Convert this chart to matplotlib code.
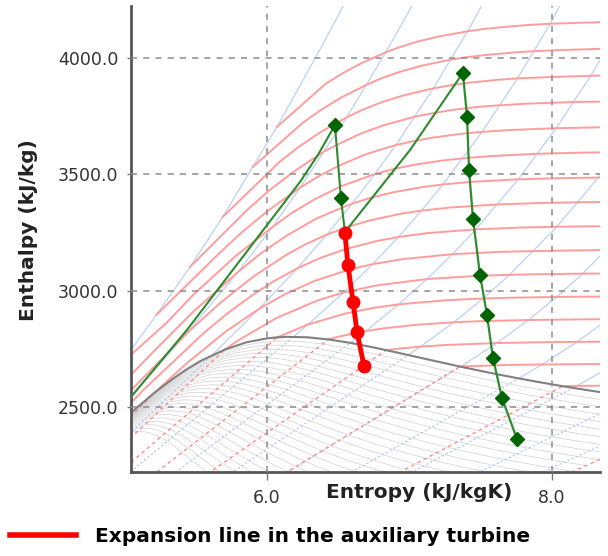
import matplotlib.pyplot as plt
from matplotlib.lines import Line2D
from matplotlib.ticker import FormatStrFormatter
import numpy as np

plt.rcParams['font.family'] = ['DejaVu Sans']

# cycle: s in kJ/kgK, h in kJ/kg
heat_s = [5.046, 5.439, 6.232, 6.358, 6.477, 6.519, 6.547]
heat_h = [2545, 2833, 3468, 3584, 3712, 3399, 3253]
reheat_s = [6.547, 7.004, 7.375]
reheat_h = [3253, 3605, 3936]
main_s = [7.375, 7.404, 7.418, 7.446, 7.495, 7.544, 7.586, 7.649, 7.754]
main_h = [3936, 3747, 3519, 3309, 3069, 2897, 2712, 2541, 2365]
hp_mark_s = [6.477, 6.519]
hp_mark_h = [3712, 3399]
aux_s = [6.547, 6.568, 6.604, 6.632, 6.681]
aux_h = [3249, 3112, 2953, 2824, 2678]

# saturation table (T in C)
sat_T = [0.01, 10, 20, 30, 40, 50, 60, 70, 80, 90, 100, 120, 140, 150, 160, 180, 200,
         220, 240, 250, 260, 280, 300, 320, 330, 340, 350, 355, 360, 365, 370, 373.95]
sat_sf = [0.0, 0.1511, 0.2965, 0.4368, 0.5724, 0.7038, 0.8313, 0.9551, 1.0756, 1.1929,
          1.3072, 1.5279, 1.7392, 1.8418, 1.9426, 2.1392, 2.3305, 2.5177, 2.7022, 2.7935,
          2.8850, 3.0681, 3.2548, 3.4495, 3.5516, 3.6601, 3.7784, 3.8442, 3.9167, 4.0003,
          4.1112, 4.4070]
sat_hf = [0.0, 42.0, 83.9, 125.7, 167.5, 209.3, 251.2, 293.1, 335.0, 377.0, 419.2, 503.8,
          589.2, 632.2, 675.5, 763.1, 852.3, 943.6, 1037.6, 1085.8, 1135.0, 1236.7, 1344.8,
          1461.3, 1525.9, 1594.5, 1670.9, 1713.9, 1764.2, 1821.0, 1890.7, 2084.3]
sat_sg = [9.1556, 8.8999, 8.6660, 8.4520, 8.2555, 8.0748, 7.9081, 7.7540, 7.6111, 7.4781,
          7.3541, 7.1291, 6.9293, 6.8371, 6.7491, 6.5850, 6.4302, 6.2840, 6.1437, 6.0721,
          6.0019, 5.8571, 5.7059, 5.5373, 5.4422, 5.3356, 5.2110, 5.1388, 5.0536, 4.9497,
          4.8012, 4.4070]
sat_hg = [2500.9, 2519.2, 2537.4, 2555.6, 2573.5, 2591.3, 2608.8, 2626.1, 2643.0, 2659.6,
          2675.6, 2706.0, 2733.5, 2745.9, 2757.4, 2777.2, 2792.0, 2801.1, 2803.0, 2800.9,
          2796.6, 2779.9, 2748.7, 2700.6, 2666.0, 2621.3, 2563.6, 2526.0, 2481.5, 2418.4,
          2334.5, 2084.3]
wet_T = [0.01, 50, 100, 150, 200, 250, 300, 350]
qualities = np.round(np.arange(0.75, 0.995, 0.01), 2)

# isobars (MPa) in the wet region: sf, hf, sg, hg
wet_p = [0.001, 0.003, 0.01, 0.03, 0.1, 0.3, 1, 3, 10]
wet_p_sf = [0.1059, 0.3543, 0.6492, 0.9441, 1.3028, 1.6717, 2.1381, 2.6454, 3.3603]
wet_p_hf = [29.3, 101.0, 191.8, 289.2, 417.5, 561.4, 762.5, 1008.3, 1407.9]
wet_p_sg = [8.9749, 8.5765, 8.1488, 7.7675, 7.3589, 6.9917, 6.5850, 6.1856, 5.6159]
wet_p_hg = [2513.7, 2544.8, 2583.9, 2624.6, 2675.0, 2724.9, 2777.1, 2803.2, 2725.5]

# superheated isobars
p001 = [(8.1488, 2583.9), (8.1749, 2592.6), (8.4479, 2687.5)]
p003 = [(7.7675, 2624.6), (7.930, 2684.3), (8.176, 2781.5), (8.394, 2879.0)]
p01 = [(7.3589, 2675.0), (7.6134, 2776.4), (7.8343, 2875.3), (8.0333, 2974.3),
       (8.2158, 3074.3), (8.5435, 3278.2)]
p03 = [(6.9917, 2724.9), (7.0778, 2761.0), (7.3115, 2865.6), (7.5166, 2967.6),
       (7.7022, 3069.3), (8.0330, 3275.0), (8.3251, 3486.0), (8.59, 3704.0)]
p1 = [(6.5850, 2777.1), (6.6940, 2827.9), (6.9247, 2942.6), (7.1229, 3051.2),
      (7.3011, 3157.7), (7.4651, 3263.9), (7.7622, 3478.5), (8.0290, 3697.9),
      (8.2731, 3924.2), (8.4996, 4158.6)]
p3 = [(6.1856, 2803.2), (6.2872, 2855.8), (6.5390, 2993.5), (6.7428, 3115.3),
      (6.9212, 3230.9), (7.0834, 3344.0), (7.2338, 3456.5), (7.5085, 3682.3),
      (7.7571, 3911.7), (7.9862, 4145.4), (8.09, 4265.0)]
p10 = [(5.6159, 2725.5), (5.9443, 2923.4), (6.2120, 3096.5), (6.4190, 3240.9),
       (6.5966, 3373.7), (6.7561, 3500.9), (6.9029, 3625.3), (7.1687, 3870.5),
       (7.4077, 4114.8), (7.52, 4237.0)]
p30 = [(4.4766, 2162.0), (5.1472, 2619.3), (5.4421, 2821.0), (5.7956, 3081.0),
       (6.0402, 3275.4), (6.2331, 3443.9), (6.3990, 3598.0), (6.5606, 3745.6),
       (6.8332, 4024.2), (6.96, 4160.0), (7.08, 4295.0)]
p100 = [(4.98, 2690), (5.225, 2898), (5.46, 3103), (5.69, 3318), (5.90, 3532),
        (6.07, 3704), (6.234, 3884), (6.397, 4064), (6.55, 4240)]
isobars = [p001, p003, p01, p03, p1, p3, p10, p30, p100]

# superheated isotherms, 50..800 C
t050 = [(8.0748, 2591.3), (8.1749, 2592.6), (8.50, 2594.0)]
t100 = [(7.3541, 2675.6), (7.6947, 2682.5), (7.930, 2684.3), (8.4479, 2687.5)]
t150 = [(6.8371, 2745.9), (6.9299, 2752.8), (7.0778, 2761.0), (7.2795, 2768.8),
        (7.6134, 2776.4), (7.9401, 2780.1), (8.176, 2781.5), (8.688, 2783.0)]
t200 = [(6.4302, 2792.0), (6.4975, 2803.3), (6.6940, 2827.9), (6.8158, 2839.3),
        (7.0592, 2855.4), (7.3115, 2865.6), (7.5066, 2870.5), (7.8343, 2875.3),
        (8.1580, 2877.7), (8.394, 2879.0)]
t250 = [(6.0721, 2800.9), (6.2872, 2855.8), (6.5453, 2902.5), (6.7467, 2927.2),
        (6.9247, 2942.6), (7.2709, 2960.7), (7.5166, 2967.6), (7.7086, 2971.0),
        (8.0333, 2974.3), (8.3556, 2976.0)]
t300 = [(5.7059, 2748.7), (5.7906, 2785.0), (6.0674, 2884.2), (6.3615, 2960.7),
        (6.5390, 2993.5), (6.7664, 3023.5), (7.1229, 3051.2), (7.4599, 3064.2),
        (7.7022, 3069.3), (7.8926, 3071.8), (8.2158, 3074.3), (8.40, 3075.0)]
t350 = [(5.2110, 2563.6), (5.4421, 2692.4), (5.7118, 2826.2), (5.9443, 2923.4),
        (6.1301, 2987.3), (6.3335, 3043.0), (6.5821, 3092.5), (6.7428, 3115.3),
        (6.9563, 3137.0), (7.3011, 3157.7), (7.6329, 3167.7), (7.8686, 3171.0),
        (8.056, 3173.0), (8.378, 3175.8)]
t400 = [(4.4766, 2162.0), (5.1418, 2580.2), (5.5540, 2818.1), (5.7213, 2902.9),
        (5.8819, 2975.4), (6.0433, 3040.0), (6.2141, 3097.5), (6.3658, 3139.4),
        (6.5432, 3178.3), (6.7714, 3214.5), (6.9235, 3231.7), (7.1292, 3248.4),
        (7.4670, 3264.5), (7.7956, 3272.4), (8.0347, 3275.5), (8.2236, 3277.0),
        (8.40, 3278.0)]
t450 = [(4.95, 2513.0), (5.4421, 2821.0), (5.6743, 2949.7), (5.9016, 3060.7),
        (6.1434, 3157.9), (6.2749, 3201.5), (6.4219, 3242.4), (6.5578, 3273.3),
        (6.7219, 3302.9), (6.9386, 3331.2), (7.0856, 3344.9), (7.2866, 3358.2),
        (7.6190, 3371.3), (7.9454, 3377.9), (8.1847, 3380.4), (8.372, 3382.0)]
t500 = [(4.9329, 2567.9), (5.1726, 2720.1), (5.4700, 2903.3), (5.7956, 3081.0),
        (5.9592, 3162.4), (6.1400, 3238.2), (6.3480, 3310.8), (6.4651, 3342.0),
        (6.5995, 3375.1), (6.7266, 3399.5), (6.8826, 3423.1), (7.0922, 3446.0),
        (7.2359, 3457.2), (7.4337, 3468.3), (7.7642, 3479.1), (8.0893, 3484.5),
        (8.3271, 3486.6), (8.40, 3487.0)]
t550 = [(4.98, 2690.0), (5.29, 2860.0), (5.494, 2990.0), (5.7785, 3149.0),
        (6.0402, 3275.4), (6.1764, 3335.6), (6.3347, 3393.5), (6.5230, 3450.4),
        (6.7585, 3502.0), (6.8800, 3521.8), (7.0308, 3541.3), (7.2346, 3560.3),
        (7.3735, 3569.0), (7.5718, 3579.0), (7.9047, 3589.0), (8.2284, 3594.0),
        (8.40, 3595.0)]
t600 = [(5.225, 2898.0), (5.6479, 3151.2), (5.8158, 3247.9), (6.0114, 3346.4),
        (6.2331, 3443.9), (6.3602, 3491.4), (6.5048, 3537.6), (6.6796, 3583.1),
        (6.7810, 3604.0), (6.9045, 3625.8), (7.0221, 3642.4), (7.1693, 3658.8),
        (7.3706, 3674.9), (7.5103, 3682.8), (7.7043, 3690.7), (8.0311, 3698.6),
        (8.3544, 3702.5)]
t650 = [(5.46, 3103.0), (5.868, 3352.0), (6.017, 3432.0), (6.193, 3514.0),
        (6.399, 3598.0), (6.515, 3634.0), (6.656, 3675.0), (6.818, 3711.0),
        (7.037, 3748.0), (7.155, 3762.0), (7.300, 3777.0), (7.499, 3791.0),
        (7.638, 3797.0), (7.830, 3804.0), (8.157, 3811.0), (8.40, 3813.0)]
t700 = [(5.69, 3318.0), (6.0877, 3553.5), (6.2189, 3616.8), (6.3750, 3681.2),
        (6.5606, 3745.6), (6.6707, 3777.5), (6.7993, 3809.0), (6.9573, 3839.1),
        (7.1697, 3869.7), (7.2822, 3882.2), (7.4247, 3894.3), (7.6214, 3906.3),
        (7.7590, 3912.2), (7.9509, 3917.2), (8.2755, 3923.6), (8.40, 3925.0)]
t750 = [(5.90, 3532.0), (6.25, 3721.0), (6.374, 3775.0), (6.52, 3830.0),
        (6.70, 3885.0), (6.80, 3912.0), (6.93, 3940.0), (7.08, 3966.0),
        (7.29, 3993.0), (7.40, 4003.0), (7.54, 4013.0), (7.74, 4024.0),
        (7.875, 4029.0), (8.067, 4034.0), (8.39, 4040.0)]
t800 = [(6.07, 3704.0), (6.4118, 3889.1), (6.5290, 3933.6), (6.6662, 3978.7),
        (6.8332, 4024.2), (6.9345, 4047.1), (7.0544, 4069.8), (7.2040, 4092.1),
        (7.4085, 4114.5), (7.5173, 4123.8), (7.6566, 4132.7), (7.8523, 4142.3),
        (7.9890, 4146.9), (8.1793, 4150.7), (8.40, 4155.0)]
isotherms = [t050, t100, t150, t200, t250, t300, t350, t400, t450, t500,
             t550, t600, t650, t700, t750, t800]

x_ticks = [6.0, 8.0]
y_ticks = [2500, 3000, 3500, 4000]

fig = plt.figure(figsize=(6.08, 5.56), dpi=100)
ax = fig.add_axes([131 / 608, 1 - 472 / 556, 469 / 608, 466 / 556])

sf = np.array(sat_sf); hf = np.array(sat_hf)
sg = np.array(sat_sg); hg = np.array(sat_hg)

# quality lines in the wet region
for q in qualities:
    ax.plot(sf + q * (sg - sf), hf + q * (hg - hf), color='#d4d4d4', lw=0.55, zorder=1)

# wet isotherms (= isobars)
for T in wet_T:
    i = sat_T.index(T)
    ax.plot([sat_sf[i], sat_sg[i]], [sat_hf[i], sat_hg[i]], color='#ff8a8a', lw=1.0,
            dashes=(2.5, 2.5), zorder=1.2)
for i in range(len(wet_p)):
    ax.plot([wet_p_sf[i], wet_p_sg[i]], [wet_p_hf[i], wet_p_hg[i]], color='#aac3ef',
            lw=0.8, dashes=(2, 2), zorder=1.1)

for pts in isobars:
    s, h = zip(*pts)
    ax.plot(s, h, color='#bcd0f4', lw=0.9, zorder=1.3)
for pts in isotherms:
    s, h = zip(*pts)
    ax.plot(s, h, color='#ff9c9c', lw=1.4, zorder=1.4)

# saturated vapour line
ax.plot(sat_sg, sat_hg, color='#808080', lw=1.5, zorder=1.6)

# cycle
ax.plot(heat_s, heat_h, color='#2e8b2e', lw=1.5, zorder=4)
ax.plot(reheat_s, reheat_h, color='#2e8b2e', lw=1.5, zorder=4)
ax.plot(main_s, main_h, color='#2e8b2e', lw=1.6, marker='D', ms=7,
        mfc='#006400', mec='#006400', zorder=4)
ax.plot(hp_mark_s, hp_mark_h, ls='none', marker='D', ms=7,
        mfc='#006400', mec='#006400', zorder=4)
ax.plot(aux_s, aux_h, color='red', lw=3.5, marker='o', ms=9, zorder=5)

ax.set_xlim(5.046, 8.337)
ax.set_ylim(2223, 4223)
ax.set_xticks(x_ticks)
ax.set_yticks(y_ticks)
ax.xaxis.set_major_formatter(FormatStrFormatter('%.1f'))
ax.yaxis.set_major_formatter(FormatStrFormatter('%.1f'))
ax.set_axisbelow(False)
ax.grid(True, color='#8c8c8c', linestyle=(0, (4, 4)), lw=1.1)

for side in ['top', 'right']:
    ax.spines[side].set_visible(False)
for side in ['left', 'bottom']:
    ax.spines[side].set_color('#555555')
    ax.spines[side].set_linewidth(2)
ax.tick_params(axis='y', length=3, width=1, color='#777777', pad=6,
               labelsize=12.5, labelcolor='#333333')
ax.tick_params(axis='x', length=6, width=1, color='#777777', pad=6,
               labelsize=12.5, labelcolor='#333333')

ax.set_xlabel('Entropy (kJ/kgK)', fontsize=14.5, fontweight='bold', color='#222222')
ax.xaxis.set_label_coords(0.614, -0.024)
ax.set_ylabel('Enthalpy (kJ/kg)', fontsize=14.5, fontweight='bold', color='#222222')
ax.yaxis.set_label_coords(-0.198, 0.519)

handle = Line2D([], [], color='red', lw=4)
fig.legend([handle], ['Expansion line in the auxiliary turbine'], loc='center left',
           bbox_to_anchor=(10 / 608, 1 - 537 / 556), frameon=False,
           borderpad=0, borderaxespad=0, handlelength=3.3, handletextpad=0.9,
           prop={'size': 14.5, 'weight': 'bold'})

fig.savefig('out.png', dpi=100)
